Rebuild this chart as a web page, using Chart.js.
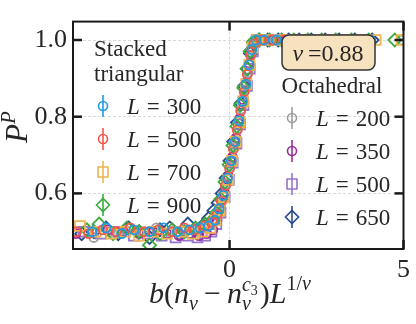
<!DOCTYPE html>
<html>
<head>
<meta charset="utf-8">
<script src="https://cdn.jsdelivr.net/npm/chart.js@4.4.0/dist/chart.umd.min.js"></script>
<style>
  body { margin: 0; background: #fff; }
  canvas { display: block; }
</style>
</head>
<body>
<canvas id="c" width="416" height="324"></canvas>
<script>
// tick values
const xTicks = [0, 5];
const yTicks = [0.6, 0.8, 1.0];

// Stacked triangular
const s300x = [-3.95,-3.55,-3.1,-2.75,-2.3,-1.9,-1.5,-1.15,-0.85,-0.6,-0.42,-0.3,-0.18,-0.06,0.05,0.16,0.27,0.37,0.47,0.56,0.64,0.76,1.0,1.35,1.7,2.05,2.45,2.85,3.25,3.65,4.05];
const s300y = [0.50,0.51,0.495,0.505,0.50,0.51,0.50,0.505,0.51,0.515,0.53,0.56,0.595,0.64,0.685,0.735,0.79,0.84,0.885,0.935,0.975,1.0,1.0,1.0,1.0,1.0,1.0,1.0,1.0,1.0,1.0];
const s500x = [-4.4,-4.05,-3.65,-3.25,-2.85,-2.45,-2.05,-1.65,-1.3,-1.0,-0.72,-0.5,-0.36,-0.24,-0.12,0.0,0.11,0.22,0.32,0.42,0.51,0.6,0.7,0.9,1.2,1.55,1.9,2.3,2.7,3.1,3.5,3.9];
const s500y = [0.50,0.495,0.505,0.50,0.51,0.50,0.505,0.50,0.51,0.505,0.515,0.525,0.545,0.58,0.62,0.665,0.715,0.765,0.815,0.865,0.91,0.96,0.99,1.0,1.0,1.0,1.0,1.0,1.0,1.0,1.0,1.0];
const s700x = [-4.3,-3.85,-3.4,-3.0,-2.6,-2.2,-1.8,-1.4,-1.05,-0.78,-0.55,-0.4,-0.28,-0.16,-0.04,0.07,0.18,0.29,0.39,0.48,0.57,0.66,0.8,1.1,1.45,1.8,2.15,2.55,2.95,3.35,3.75,4.2,4.95];
const s700y = [0.515,0.50,0.495,0.50,0.49,0.50,0.495,0.50,0.495,0.50,0.51,0.53,0.555,0.59,0.635,0.685,0.735,0.785,0.84,0.885,0.935,0.98,1.0,1.0,1.0,1.0,1.0,1.0,1.0,1.0,1.0,1.0,1.0];
const s900x = [-4.1,-3.75,-3.35,-2.95,-2.6,-2.3,-2.0,-1.65,-1.3,-0.98,-0.7,-0.5,-0.37,-0.25,-0.13,-0.01,0.1,0.21,0.31,0.41,0.5,0.59,0.68,0.85,1.15,1.5,1.85,2.25,2.65,3.05,3.5,4.0,4.75];
const s900y = [0.505,0.52,0.495,0.51,0.50,0.465,0.495,0.505,0.50,0.51,0.52,0.53,0.55,0.585,0.63,0.675,0.725,0.775,0.83,0.875,0.925,0.97,0.995,1.0,1.0,1.0,1.0,1.0,1.0,1.0,1.0,1.0,1.0];

// Octahedral
const o200x = [-3.9,-3.45,-3.0,-2.55,-2.1,-1.7,-1.3,-0.95,-0.68,-0.46,-0.33,-0.21,-0.09,0.02,0.13,0.24,0.34,0.44,0.53,0.62,0.72,0.95,1.3,1.7,2.1,2.5,2.9,3.3,3.75,4.95];
const o200y = [0.485,0.50,0.505,0.50,0.51,0.50,0.505,0.51,0.51,0.525,0.55,0.58,0.625,0.67,0.72,0.77,0.82,0.87,0.915,0.96,0.995,1.0,1.0,1.0,1.0,1.0,1.0,1.0,1.0,1.0];
const o350x = [-4.42,-3.5,-3.05,-2.6,-2.2,-1.8,-1.45,-1.15,-0.88,-0.66,-0.48,-0.36,-0.25,-0.14,-0.03,0.08,0.19,0.29,0.39,0.48,0.56,0.64,0.74,0.95,1.25,1.6,2.0,2.4,2.8,3.2,3.6,4.05];
const o350y = [0.495,0.505,0.50,0.495,0.50,0.495,0.49,0.495,0.49,0.495,0.505,0.53,0.56,0.60,0.645,0.695,0.745,0.795,0.845,0.89,0.94,0.98,1.0,1.0,1.0,1.0,1.0,1.0,1.0,1.0,1.0,1.0];
const o500x = [-4.2,-3.7,-3.2,-2.75,-2.35,-1.95,-1.55,-1.2,-0.92,-0.7,-0.52,-0.38,-0.26,-0.14,-0.02,0.09,0.2,0.3,0.4,0.5,0.58,0.67,0.78,1.05,1.4,1.8,2.2,2.6,3.0,3.45,3.9];
const o500y = [0.50,0.495,0.50,0.49,0.495,0.49,0.485,0.49,0.485,0.49,0.50,0.52,0.55,0.59,0.635,0.68,0.73,0.78,0.83,0.88,0.925,0.97,1.0,1.0,1.0,1.0,1.0,1.0,1.0,1.0,1.0];
const o650x = [-4.25,-3.9,-3.55,-3.2,-2.9,-2.6,-2.3,-2.0,-1.72,-1.45,-1.2,-0.98,-0.78,-0.6,-0.45,-0.33,-0.21,-0.1,0.01,0.12,0.23,0.33,0.43,0.52,0.6,0.7,0.85,1.1,1.4,1.7,2.0,2.35,2.75,3.15,3.6,4.1];
const o650y = [0.495,0.50,0.51,0.495,0.51,0.50,0.485,0.505,0.51,0.495,0.52,0.505,0.515,0.535,0.555,0.575,0.60,0.64,0.685,0.735,0.785,0.835,0.88,0.925,0.965,0.99,1.0,1.0,1.0,1.0,1.0,1.0,1.0,1.0,1.0,1.0];

const SERIF = '"Liberation Serif", "DejaVu Serif", serif';
const TXT = '#262626';

const pts = (xs, ys) => xs.map((x, i) => ({ x: x, y: ys[i] }));

// label, color, pointStyle, radius, data
const series = [
  ['300', '#1f9be0', 'circle', 4.5, pts(s300x, s300y)],
  ['500', '#f7564a', 'circle', 4.5, pts(s500x, s500y)],
  ['700', '#eeb44f', 'rect', 7, pts(s700x, s700y)],
  ['900', '#3dab3d', 'rectRot', 6.5, pts(s900x, s900y)],
  ['200', '#9e9e9e', 'circle', 4.5, pts(o200x, o200y)],
  ['350', '#9c2a9c', 'circle', 4.5, pts(o350x, o350y)],
  ['500', '#9575cd', 'rect', 7, pts(o500x, o500y)],
  ['650', '#284b8c', 'rectRot', 6.5, pts(o650x, o650y)]
];

// draws a row of text pieces: [text, font, dy, advance, gapAfter]
function rich(ctx, parts, x0, y, center) {
  let w = 0;
  parts.forEach(p => {
    ctx.font = p[1];
    p.w = ctx.measureText(p[0]).width;
    if (p[3] !== false) w += p.w + (p[4] || 0);
  });
  let x = center ? x0 - w / 2 : x0;
  parts.forEach(p => {
    ctx.font = p[1];
    ctx.fillText(p[0], x, y + (p[2] || 0));
    if (p[3] !== false) x += p.w + (p[4] || 0);
  });
}

function marker(ctx, style, x, y, r) {
  ctx.beginPath();
  if (style === 'circle') ctx.arc(x, y, r, 0, Math.PI * 2);
  else if (style === 'rect') { const s = r * Math.SQRT1_2; ctx.rect(x - s, y - s, 2 * s, 2 * s); }
  else { ctx.moveTo(x - r, y); ctx.lineTo(x, y - r); ctx.lineTo(x + r, y); ctx.lineTo(x, y + r); ctx.closePath(); }
  ctx.stroke();
}

const decor = {
  id: 'decor',
  afterDraw(chart) {
    const { ctx, chartArea: a, scales: { x, y } } = chart;
    ctx.save();

    // frame + inward ticks
    ctx.strokeStyle = '#1a1a1a';
    ctx.lineWidth = 2;
    ctx.strokeRect(a.left, a.top, a.right - a.left, a.bottom - a.top);
    ctx.lineWidth = 2.5;
    const seg = (x1, y1, x2, y2) => { ctx.beginPath(); ctx.moveTo(x1, y1); ctx.lineTo(x2, y2); ctx.stroke(); };
    yTicks.forEach(v => {
      const py = y.getPixelForValue(v);
      seg(a.left, py, a.left + 9, py);
      seg(a.right, py, a.right - 9, py);
    });
    xTicks.forEach(v => {
      const px = x.getPixelForValue(v);
      seg(px, a.bottom, px, a.bottom - 9);
      seg(px, a.top, px, a.top + 9);
    });

    ctx.fillStyle = TXT;
    ctx.textBaseline = 'alphabetic';
    ctx.textAlign = 'left';
    const R = (s) => s + 'px ' + SERIF;
    const I = (s) => 'italic ' + s + 'px ' + SERIF;

    // legend blocks
    ctx.font = R(23);
    ctx.fillText('Stacked', 94, 56);
    ctx.fillText('triangular', 94, 81);
    ctx.textAlign = 'center';
    ctx.fillText('Octahedral', 332, 93);
    ctx.textAlign = 'left';

    const rowsL = [106, 139, 172, 205];
    const rowsR = [118, 151, 184, 217];
    series.forEach((s, i) => {
      const left = i < 4;
      const cy = left ? rowsL[i] : rowsR[i - 4];
      const mx = left ? 103 : 292;
      const tx = left ? 127 : 316;
      ctx.strokeStyle = s[1];
      ctx.lineWidth = 1.6;
      seg(mx, cy - 11, mx, cy + 11);
      marker(ctx, s[2], mx, cy, s[3]);
      ctx.fillStyle = TXT;
      rich(ctx, [['L', I(23), 0, true, 7], ['=', R(23), 0, true, 7], [s[0], R(23)]], tx, cy + 8, false);
    });

    // nu box
    ctx.fillStyle = '#f7e2c0';
    ctx.strokeStyle = '#333';
    ctx.lineWidth = 1.5;
    ctx.beginPath();
    ctx.roundRect(282, 35, 93, 35, 7);
    ctx.fill();
    ctx.stroke();
    ctx.fillStyle = TXT;
    rich(ctx, [['ν', I(24), 0, true, 5], ['=0.88', R(24)]], 328, 61, true);

    // axis titles
    const xl = [
      ['b', I(30)], ['(', R(30)], ['n', I(30)], ['v', I(20), 7, true, 6],
      ['−', R(30), 0, true, 6], ['n', I(30)], ['v', I(20), 7, false],
      ['c', I(20), -12], ['3', R(14), -8, true, 2], [')', R(30)], ['L', I(30)],
      ['1/', R(20), -13], ['ν', I(20), -13]
    ];
    rich(ctx, xl, 230, 303, true);

    ctx.translate(27, 127);
    ctx.rotate(-Math.PI / 2);
    rich(ctx, [['P', I(31)], ['P', I(21), -12]], 0, 0, true);
    ctx.restore();
  }
};

new Chart(document.getElementById('c'), {
  type: 'scatter',
  data: {
    datasets: series.map(s => ({
      label: s[0],
      data: s[4],
      borderColor: s[1],
      backgroundColor: 'rgba(0,0,0,0)',
      pointStyle: s[2],
      pointRadius: s[3],
      pointBorderWidth: 1.8,
      showLine: false
    }))
  },
  options: {
    responsive: false,
    animation: false,
    devicePixelRatio: 1,
    layout: { padding: { top: 4, right: 11, left: 0, bottom: 0 } },
    plugins: { legend: { display: false }, tooltip: { enabled: false } },
    scales: {
      x: {
        type: 'linear', min: -4.5, max: 5,
        afterBuildTicks: (sc) => { sc.ticks = xTicks.map(v => ({ value: v })); },
        afterFit: (sc) => { sc.height = 75; },
        grid: { color: '#cfcfcf', lineWidth: 0.8, drawTicks: false },
        border: { display: false, dash: [3, 2] },
        ticks: { padding: 6, color: TXT, font: { family: SERIF, size: 26 }, maxRotation: 0 }
      },
      y: {
        type: 'linear', min: 0.455, max: 1.048,
        afterBuildTicks: (sc) => { sc.ticks = yTicks.map(v => ({ value: v })); },
        afterFit: (sc) => { sc.width = 73; },
        grid: { color: '#cfcfcf', lineWidth: 0.8, drawTicks: false },
        border: { display: false, dash: [3, 2] },
        ticks: { padding: 6, color: TXT, font: { family: SERIF, size: 26 }, callback: (v) => v.toFixed(1) }
      }
    }
  },
  plugins: [decor]
});
</script>
</body>
</html>
